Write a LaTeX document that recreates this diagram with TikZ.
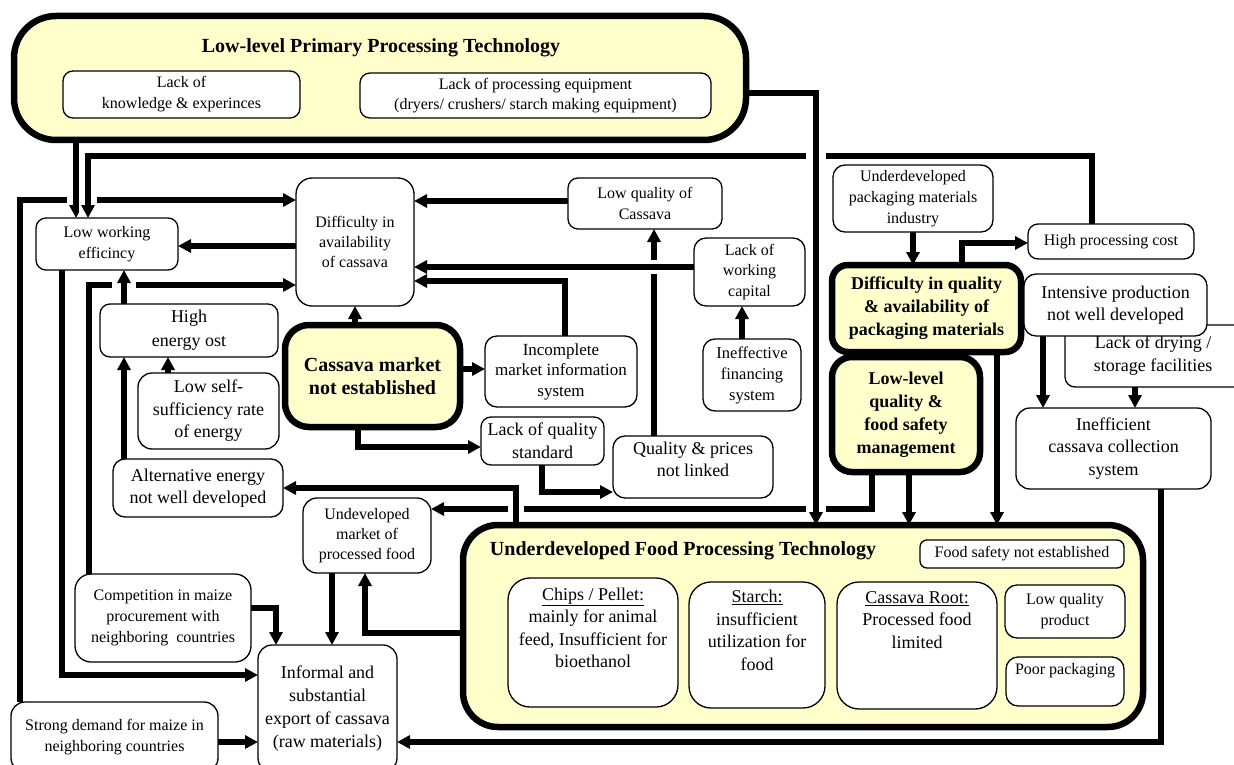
\documentclass[tikz,border=0pt]{standalone}
\usepackage{fontspec}
\setmainfont{Liberation Serif}
\usetikzlibrary{arrows.meta}
\definecolor{pale}{HTML}{FFFFCC}
\newcommand\fsz[2]{\fontsize{#1pt}{#2pt}\selectfont}
\pgfdeclarelayer{wires}
\pgfsetlayers{wires,main}

\begin{document}
\begin{tikzpicture}[x=1pt,y=-1pt,
  box/.style={draw, fill=white, line width=1.3pt, rounded corners=10pt,
    align=center, inner sep=0pt, outer sep=0pt},
  keybox/.style={draw, fill=pale, line width=6.5pt, rounded corners=18pt,
    align=center, inner sep=0pt, outer sep=0pt},
  sz/.style 2 args={minimum width=#1pt, minimum height=#2pt},
  wire/.style={line width=5.5pt},
  arr/.style={wire, -{Triangle[length=13pt,width=13pt]}},
  halo/.style={preaction={draw=white, line width=#1, arrows=-}},
]
\useasboundingbox (0,0) rectangle (1234,765);

% ---------- primary processing block ----------
\node[keybox, sz={732}{124}, rounded corners=42pt] (ptop) at (380,78) {};
\node[font=\fsz{20}{24}\bfseries] (ptitle) at (381,48) {Low-level Primary Processing Technology};
\node[box, sz={237}{47}, font=\fsz{16}{21}] (know) at (181.5,94.5) {Lack of\\knowledge \& experinces};
\node[box, sz={351}{45}, font=\fsz{16}{20}] (equip) at (535.5,95.5) {Lack of processing equipment\\(dryers/ crushers/ starch making equipment)};

% ---------- left and centre ----------
\node[box, sz={142}{52}, font=\fsz{16}{21}] (lwe) at (107,244) {Low working\\efficincy};
\node[box, sz={118}{128}, rounded corners=16pt, font=\fsz{16}{20}] (dia) at (355,242) {Difficulty in\\availability\\of cassava};
\node[box, sz={178}{53}, font=\fsz{18}{24}] (hec) at (189,330.5) {High\\energy ost};
\node[box, sz={141}{76}, rounded corners=14pt, font=\fsz{18}{22.5}] (lss) at (208.5,411) {Low self-\\sufficiency rate\\of energy};
\node[box, sz={170}{58}, rounded corners=12pt, font=\fsz{18}{22}] (alt) at (198,488) {Alternative energy\\not well developed};
\node[keybox, sz={175}{102}, rounded corners=24pt, font=\fsz{20}{23}\bfseries] (cme) at (372.5,376) {Cassava market\\not established};
\node[box, sz={152}{71}, rounded corners=12pt, font=\fsz{17}{20.5}] (imi) at (561,371.5) {Incomplete\\market information\\system};
\node[box, sz={123}{48}, font=\fsz{18}{23}] (lqs) at (542.5,441) {Lack of quality\\standard};
\node[box, sz={160}{62}, rounded corners=12pt, font=\fsz{18}{22}] (qpl) at (693,467) {Quality \& prices\\not linked\\[-6pt]\mbox{}};
\node[box, sz={154}{51}, font=\fsz{16}{21}] (lqc) at (645,203.5) {Low quality of\\Cassava};
\node[box, sz={111}{68}, rounded corners=12pt, font=\fsz{16}{20.5}] (lwc) at (749.5,272) {Lack of\\working\\capital};
\node[box, sz={98}{72}, rounded corners=12pt, font=\fsz{16.5}{21}] (ifs) at (752,375) {Ineffective\\financing\\system};

% ---------- right side ----------
\node[box, sz={160}{67}, rounded corners=12pt, font=\fsz{16}{21}] (upm) at (913,198.5) {Underdeveloped\\packaging materials\\industry};
\node[keybox, sz={189}{87}, rounded corners=16pt, font=\fsz{18}{23}\bfseries] (dqa) at (926.5,308.5) {Difficulty in quality\\\& availability of\\packaging materials};
\node[box, sz={166}{35}, font=\fsz{16}{20}] (hpc) at (1111,241.5) {High processing cost};
\node[keybox, sz={148}{115}, rounded corners=20pt, font=\fsz{18}{23}\bfseries] (llq) at (906,414.5) {Low-level\\quality \&\\food safety\\management};
\node[box, sz={190}{62}, font=\fsz{18}{23}] (ldf) at (1160,356) {Lack of drying /\hspace*{14pt}\\storage facilities\hspace*{14pt}};
\node[box, sz={183}{62}, rounded corners=12pt, font=\fsz{18}{22}] (ipd) at (1115.5,305) {Intensive production\\not well developed};
\node[box, sz={195}{81}, rounded corners=14pt, font=\fsz{18}{22.5}] (ics) at (1113.5,448.5) {Inefficient\\cassava collection\\system};

% ---------- bottom ----------
\node[box, sz={128}{75}, rounded corners=14pt, font=\fsz{16}{20}] (und) at (367,535.5) {Undeveloped\\market of\\processed food};
\node[box, sz={176}{88}, rounded corners=16pt, font=\fsz{16}{21}] (comp) at (163,618) {Competition in maize\\procurement with\\neighboring~~countries};
\node[box, sz={139}{127}, rounded corners=14pt, font=\fsz{18}{23}] (inf) at (327.5,708.5) {Informal and\\substantial\\export of cassava\\(raw materials)};
\node[box, sz={207}{70}, rounded corners=14pt, font=\fsz{16}{21}] (sdm) at (114.5,737) {Strong demand for maize in\\neighboring countries};

% ---------- food processing block ----------
\node[keybox, sz={680}{202}, rounded corners=35pt] (ufp) at (803,626) {};
\node[font=\fsz{20}{24}\bfseries] (ftitle) at (683,551) {Underdeveloped Food Processing Technology};
\node[box, sz={204}{28}, rounded corners=7pt, font=\fsz{16}{20}] (fsn) at (1022,554) {Food safety not established};
\node[box, sz={170}{129}, rounded corners=22pt, font=\fsz{18}{22.5}] (chp) at (593,642.5) {\underline{Chips / Pellet:}\\mainly for animal\\feed, Insufficient for\\bioethanol\\\strut};
\node[box, sz={136}{126}, rounded corners=22pt, font=\fsz{18}{22.5}] (sta) at (757,645) {\underline{Starch:}\\insufficient\\utilization for\\food\\\strut};
\node[box, sz={160}{127}, rounded corners=22pt, font=\fsz{18}{22.5}] (car) at (917,645.5) {\underline{Cassava Root:}\\Processed food\\limited\\\strut\\\strut};
\node[box, sz={120}{53}, rounded corners=12pt, font=\fsz{16}{21}] (lqp) at (1065,611.5) {Low quality\\product};
\node[box, sz={118}{49}, rounded corners=12pt, font=\fsz{16}{20}] (ppk) at (1065,681.5) {Poor packaging\\\strut};

% ---------- connectors ----------
\begin{pgfonlayer}{wires}
% lines that are interrupted where others cross them
\draw[arr] (sdm.north -| 20,0) -- (20,200) -- (dia.west |- 0,200);
\draw[arr] (lwe.south -| 62,0) |- (inf.west |- 0,675);
\draw[arr] (comp.north -| 89,0) |- (dia.west |- 0,285);
\draw[arr] (dia.west |- 0,246) -- (lwe.east |- 0,246);
\draw[arr] (lss.north -| 168,0) -- (hec.south -| 168,0);
\draw[arr] (alt.north -| 124,0) -- (hec.south -| 124,0);
\draw[arr] (llq.south -| 872,0) |- (und.east |- 0,509);
\draw[arr] (llq.south -| 909,0) -- (ufp.north -| 909,0);
\draw[arr] (dqa.south -| 997,0) -- (ufp.north -| 997,0);
\draw[arr] (ufp.west |- 0,633) -| (und.south -| 365,0);
\draw[arr] (und.south -| 332,0) -- (inf.north -| 332,0);
\draw[arr] (comp.east |- 0,608) -| (inf.north -| 276,0);
\draw[arr] (sdm.east |- 0,742) -- (inf.west |- 0,742);
\draw[arr] (ics.south -| 1161,0) |- (inf.east |- 0,742);
\draw[arr] (cme.north -| 355,0) -- (dia.south -| 355,0);
\draw[arr] (cme.east |- 0,369) -- (imi.west |- 0,369);
\draw[arr] (cme.south -| 358,0) |- (lqs.west |- 0,447);
\draw[arr] (lqs.south -| 542,0) |- (qpl.west |- 0,492);
\draw[arr] (qpl.north -| 654,0) -- (lqc.south -| 654,0);
\draw[arr] (lqc.west |- 0,201) -- (dia.east |- 0,201);
\draw[arr] (imi.north -| 565,0) |- (dia.east |- 0,281);
\draw[arr] (ifs.north -| 742,0) -- (lwc.south -| 742,0);
\draw[arr] (upm.south -| 913,0) -- (dqa.north -| 913,0);
\draw[arr] (dqa.north -| 962,0) |- (hpc.west |- 0,243);
\draw[arr] (ipd.south -| 1043,0) -- (ics.north -| 1043,0);
\draw[arr] (ldf.south -| 1135,0) -- (ics.north -| 1135,0);
% lines that run on unbroken over the crossings
\draw[arr, halo=18pt] (ptop.south -| 76,0) -- (lwe.north -| 76,0);
\draw[arr, halo=18pt] (hpc.north -| 1092,0) -- (1092,156) -- (88,156) -- (lwe.north -| 88,0);
\draw[arr, halo=20pt] (ptop.east |- 0,93) -| (ufp.north -| 816,0);
\draw[arr, halo=24pt] (hec.north -| 124,0) -- (lwe.south -| 124,0);
\draw[arr, halo=16pt] (ufp.north -| 516,0) |- (alt.east |- 0,488);
\draw[arr, halo=14pt] (lwc.west |- 0,267) -- (dia.east |- 0,267);
\end{pgfonlayer}
\end{tikzpicture}
\end{document}
